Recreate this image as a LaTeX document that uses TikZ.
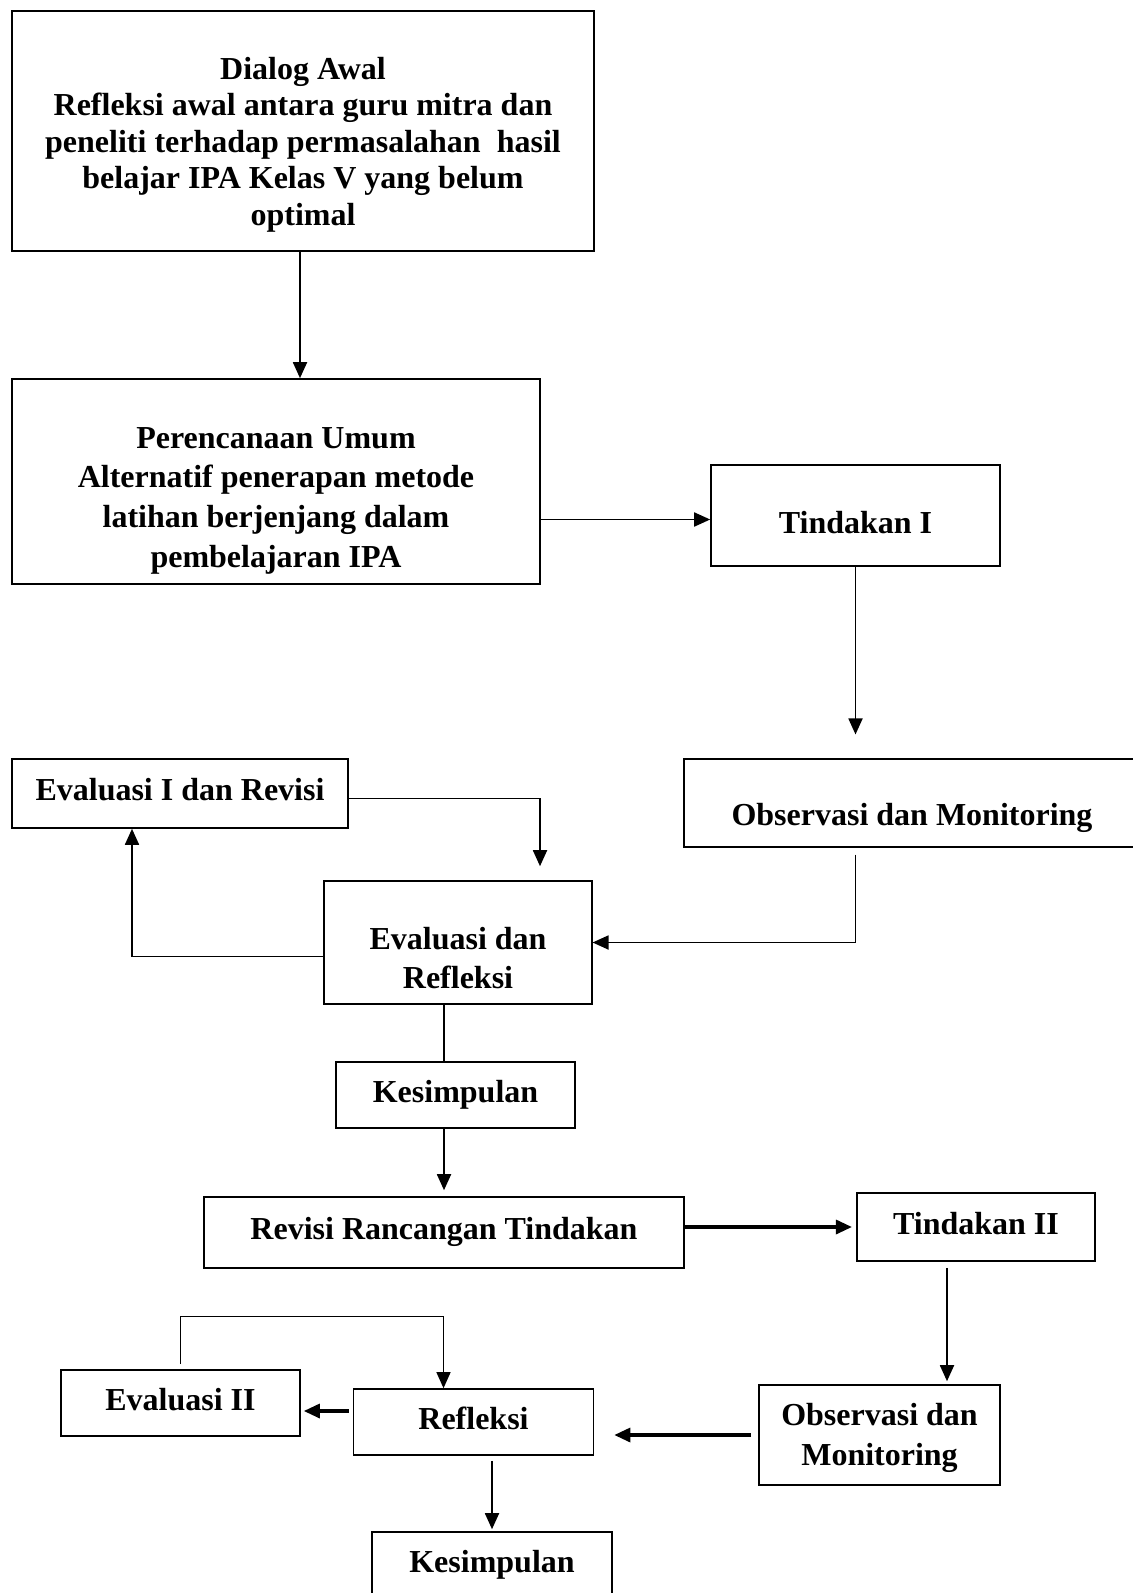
\documentclass[tikz,border=0pt]{standalone}
\usepackage{fontspec}
\setmainfont{Liberation Serif}
\usepackage{tikz}
\usetikzlibrary{arrows.meta,positioning,calc}

\begin{document}
\begin{tikzpicture}[
  x=0.5pt, y=-0.5pt,
  box/.style={rectangle, draw, line width=0.8pt, inner sep=0pt,
    font=\bfseries\fontsize{16}{19.8}\selectfont, align=center},
  oneline/.style={box, text height=10.8pt, text depth=3.5pt},
  ->, >={Triangle[length=8pt,width=7pt]}, line width=0.9pt
]
  \useasboundingbox (0,0) rectangle (1132,1593);

  % planning
  \node[box, minimum width=291pt, minimum height=120pt, text height=98.1pt, text depth=3.5pt,
    font=\bfseries\fontsize{16}{18.3}\selectfont] (dialog) at (303,131)
    {Dialog Awal\\Refleksi awal antara guru mitra dan\\peneliti terhadap permasalahan~ hasil\\belajar IPA Kelas V yang belum\\optimal};
  \node[box, minimum width=264pt, minimum height=102.5pt, text height=89pt, text depth=3.5pt]
    (rencana) at (276,481.5)
    {Perencanaan Umum\\Alternatif penerapan metode\\latihan berjenjang dalam\\pembelajaran IPA};

  % cycle I
  \node[oneline, minimum width=144.5pt, minimum height=50.5pt, text height=21.7pt]
    (tindakanI) at (855.5,515.5) {Tindakan I};
  \node[oneline, minimum width=228pt, minimum height=43.75pt, text height=26.3pt]
    (obsI) at (912,803) {Observasi dan Monitoring};
  \node[oneline, minimum width=167.75pt, minimum height=34.5pt]
    (evalI) at (180,793.5) {Evaluasi I dan Revisi};
  \node[box, minimum width=133.75pt, minimum height=61.5pt, text height=49.8pt, text depth=3.5pt]
    (evalref) at (458,942.5) {Evaluasi dan\\Refleksi};
  \node[oneline, minimum width=119.5pt, minimum height=33pt]
    (kesI) at (455.5,1095) {Kesimpulan};
  \node[oneline, minimum width=240pt, minimum height=35.5pt]
    (revisi) at (444,1232.5) {Revisi Rancangan Tindakan};

  % cycle II
  \node[oneline, minimum width=119.25pt, minimum height=34pt]
    (tindakanII) at (976,1227) {Tindakan II};
  \node[box, minimum width=120.5pt, minimum height=50pt, text height=33.9pt, text depth=3.5pt]
    (obsII) at (879.5,1435) {Observasi dan\\Monitoring};
  \node[oneline, minimum width=120pt, minimum height=33pt]
    (refleksi) at (473.5,1422) {Refleksi};
  \node[oneline, minimum width=119.5pt, minimum height=33pt]
    (evalII) at (180.5,1403) {Evaluasi II};
  \node[oneline, minimum width=120pt, minimum height=33pt]
    (kesII) at (492,1565) {Kesimpulan};

  \draw ([xshift=-1.5pt]dialog.south) -- ([xshift=-1.5pt]dialog.south |- rencana.north);
  \draw ([yshift=-2pt]tindakanI.west -| rencana.east) -- ([yshift=-2pt]tindakanI.west);
  \draw[shorten >=12pt] (tindakanI.south) -- (tindakanI.south |- obsI.north);
  \draw[shorten <=3.5pt] (tindakanI.south |- obsI.south) |- (evalref.east);
  \draw ([yshift=-7pt]evalref.west) -| ([xshift=-24pt]evalI.south);
  \draw[shorten >=7pt] ([yshift=-2.5pt]evalI.east) -| ([xshift=41pt]evalref.north);
  \draw[-] (evalref.south -| revisi.north) -- (kesI.north -| revisi.north);
  \draw[shorten >=3pt] (kesI.south -| revisi.north) -- (revisi.north);
  \draw[line width=1.6pt, shorten >=2pt] (tindakanII.west -| revisi.east) -- (tindakanII.west);

  \draw[shorten <=3pt, shorten >=1.5pt] ([xshift=-14.5pt]tindakanII.south)
    -- ([xshift=-14.5pt]tindakanII.south |- obsII.north);
  \draw[line width=1.6pt, shorten <=3.5pt, shorten >=10pt] (obsII.west) -- (obsII.west -| refleksi.east);
  \draw[line width=1.6pt, shorten <=2pt, shorten >=1.5pt]
    ($(refleksi.west |- evalII.east)+(0,8)$) -- ($(evalII.east)+(0,8)$);
  % back into Refleksi
  \draw[line width=0.6pt, shorten <=2.5pt] (evalII.north) -- ++(0,-53) -| ([xshift=-15pt]refleksi.north);
  \draw[shorten <=2.5pt, shorten >=1pt] (refleksi.south -| kesII.north) -- (kesII.north);
\end{tikzpicture}
\end{document}
